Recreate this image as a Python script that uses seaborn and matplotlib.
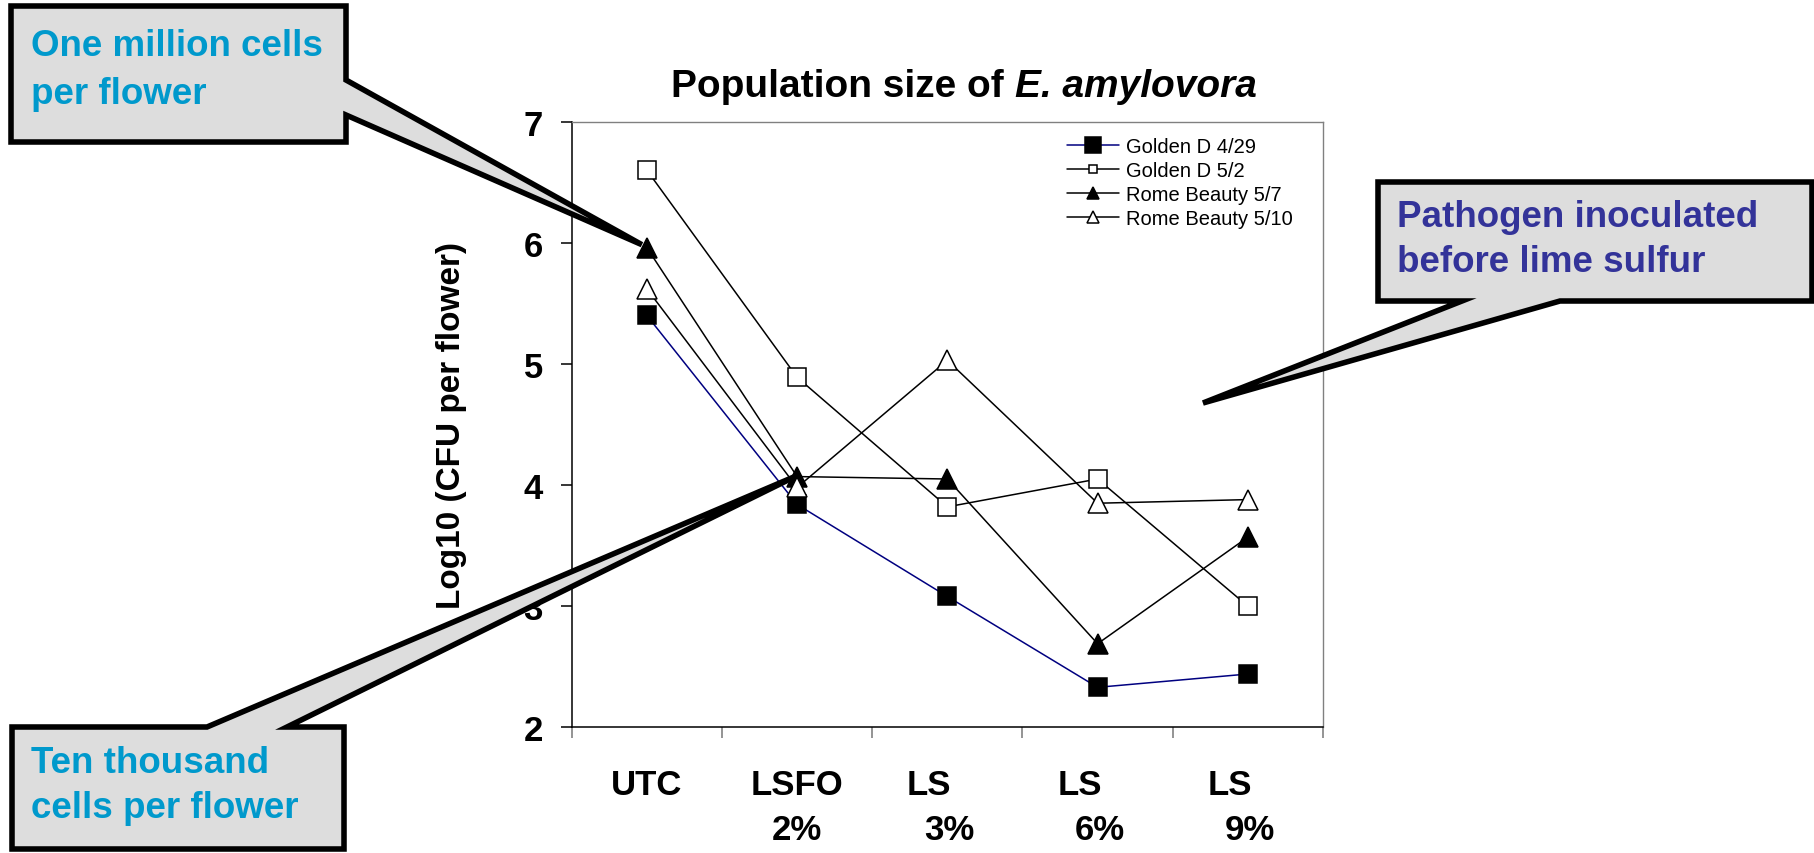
import matplotlib
matplotlib.use("Agg")
import matplotlib.pyplot as plt
import seaborn as sns
import numpy as np
from matplotlib.patches import Polygon
from matplotlib.transforms import ScaledTranslation
from matplotlib.ticker import NullLocator

# ---------------- data ----------------
categories = ["UTC", "LSFO", "LS", "LS", "LS"]
category_rates = ["", "2%", "3%", "6%", "9%"]
series_names = ["Golden D 4/29", "Golden D 5/2", "Rome Beauty 5/7", "Rome Beauty 5/10"]
golden_d_429 = [5.40, 3.84, 3.08, 2.33, 2.44]
golden_d_52 = [6.60, 4.89, 3.82, 4.05, 3.00]
rome_beauty_57 = [5.96, 4.07, 4.05, 2.69, 3.57]
rome_beauty_510 = [5.62, 3.98, 5.03, 3.85, 3.88]
y_ticks = [2, 3, 4, 5, 6, 7]

# ---------------- style ----------------
sns.set_style("white")
plt.rcParams["font.family"] = ["Liberation Sans", "DejaVu Sans"]
plt.rcParams["text.color"] = "black"
plt.rcParams["axes.labelcolor"] = "black"
plt.rcParams["xtick.color"] = "black"
plt.rcParams["ytick.color"] = "black"

W, H = 1815, 854
fig = plt.figure(figsize=(W / 100, H / 100), dpi=100)
L, R, T, B = 571.7, 1323.0, 122.7, 728.3
ax = fig.add_axes([L / W, 1 - B / H, (R - L) / W, (B - T) / H])

styles = {
    "Golden D 4/29": dict(line="#000080", marker="s", ms=13, mfc="black", lms=12),
    "Golden D 5/2": dict(line="black", marker="s", ms=13.5, mfc="white", lms=6),
    "Rome Beauty 5/7": dict(line="black", marker="^", ms=14, mfc="black", lms=9),
    "Rome Beauty 5/10": dict(line="black", marker="^", ms=14, mfc="white", lms=8),
}

xpos = np.arange(len(categories))
for name, vals in zip(series_names, [golden_d_429, golden_d_52, rome_beauty_57, rome_beauty_510]):
    st = styles[name]
    sns.lineplot(x=xpos, y=vals, ax=ax, color=st["line"], linewidth=1.1,
                 marker=st["marker"], markersize=st["ms"], markerfacecolor=st["mfc"],
                 markeredgecolor="black", markeredgewidth=1.1, label=name)

ax.set_xlim(-0.5, len(categories) - 0.5)
ax.set_ylim(y_ticks[0], y_ticks[-1])
ax.grid(False)

# y axis
ax.set_yticks(y_ticks)
ax.set_yticklabels([str(v) for v in y_ticks], fontsize=25, fontweight="bold", color="black")
ax.tick_params(axis="y", which="major", direction="out", length=7.7, width=1.1,
               color="black", labelcolor="black", pad=13, left=True)

# x axis, first label row
ax.set_xticks(xpos)
ax.set_xticklabels(categories, fontsize=25, fontweight="bold", color="black")
ax.tick_params(axis="x", which="major", length=0, pad=29, bottom=True, labelcolor="black")
ax.set_xticks(np.arange(len(categories) + 1) - 0.5, minor=True)
ax.tick_params(axis="x", which="minor", direction="out", length=8, width=1.1,
               color="#777777", bottom=True)
for lbl, dx in zip(ax.get_xticklabels(), [0, 0, -18, -18, -18]):
    lbl.set_transform(lbl.get_transform() + ScaledTranslation(dx / 100, 0, fig.dpi_scale_trans))

# x axis, second label row
sec = ax.secondary_xaxis("bottom")
sec.set_xticks(xpos)
sec.set_xticklabels(category_rates, fontsize=25, fontweight="bold", color="black")
sec.xaxis.set_minor_locator(NullLocator())
sec.tick_params(axis="x", which="major", length=0, pad=62, labelcolor="black")
sec.spines["bottom"].set_visible(False)
for lbl, dx in zip(sec.get_xticklabels(), [0, 0, 2, 2, 2]):
    lbl.set_transform(lbl.get_transform() + ScaledTranslation(dx / 100, 0, fig.dpi_scale_trans))

# spines
for s in ["left", "bottom"]:
    ax.spines[s].set_color("black")
    ax.spines[s].set_linewidth(1.1)
for s in ["top", "right"]:
    ax.spines[s].set_color("#808080")
    ax.spines[s].set_linewidth(1.0)

# legend
leg = ax.legend(loc="upper left", bbox_to_anchor=(1067 / W, 1 - 138 / H),
                bbox_transform=fig.transFigure, frameon=False, fontsize=14.5,
                handlelength=2.6, handletextpad=0.35, labelspacing=0.25,
                borderpad=0, borderaxespad=0)
for h, name in zip(leg.legend_handles, series_names):
    h.set_markersize(styles[name]["lms"])
for t in leg.get_texts():
    t.set_color("black")

# title (bold + bold italic)
fs_title = 28
renderer = fig.canvas.get_renderer()
t1 = fig.text(0, 1 - 97 / H, "Population size of", fontsize=fs_title, fontweight="bold",
              ha="left", va="baseline", color="black")
t2 = fig.text(0, 1 - 97 / H, "E. amylovora", fontsize=fs_title, fontweight="bold",
              fontstyle="italic", ha="left", va="baseline", color="black")
w1 = t1.get_window_extent(renderer).width
w2 = t2.get_window_extent(renderer).width
gap = 0.278 * fs_title * 100 / 72
x0 = 964 - (w1 + gap + w2) / 2
t1.set_x(x0 / W)
t2.set_x((x0 + w1 + gap) / W)

# y label
fig.text(452 / W, 1 - 425.5 / H, "Log10 (CFU per flower)", rotation=90, ha="center",
         va="center", fontsize=24, fontweight="bold", color="black")

# ---------------- callouts ----------------
ov = fig.add_axes([0, 0, 1, 1], zorder=20)
ov.set_xlim(0, W)
ov.set_ylim(H, 0)
ov.set_axis_off()
ov.patch.set_alpha(0)


def tip_of(xi, yv, dx=0.0, dy=0.0):
    px, py = ax.transData.transform((xi, yv))
    return (px + dx, H - py + dy)


tip1 = tip_of(0, rome_beauty_57[0], -5, -3)
tip2 = tip_of(1, rome_beauty_57[1], 0, -1)
tip3 = (1203, 404)

callouts = [
    [(11, 7), (346, 7), (346, 81), tip1, (346, 116), (346, 143), (11, 143)],
    [(12, 728), (207, 728), tip2, (287, 728), (344, 728), (344, 850), (12, 850)],
    [(1378, 183), (1812, 183), (1812, 302), (1560, 302), tip3, (1462, 302), (1378, 302)],
]
for verts in callouts:
    ov.add_patch(Polygon(verts, closed=True, facecolor="#DDDDDD", edgecolor="black",
                         linewidth=4, joinstyle="miter"))

fs_call = 26.5
texts = [
    ("One million cells", 31, 56, "#0099CC"),
    ("per flower", 31, 104, "#0099CC"),
    ("Ten thousand", 31, 773, "#0099CC"),
    ("cells per flower", 31, 818, "#0099CC"),
    ("Pathogen inoculated", 1397, 227, "#333399"),
    ("before lime sulfur", 1397, 272, "#333399"),
]
for s, x, y, c in texts:
    ov.text(x, y, s, fontsize=fs_call, fontweight="bold", color=c, ha="left", va="baseline")

fig.savefig("out.png", dpi=100)
